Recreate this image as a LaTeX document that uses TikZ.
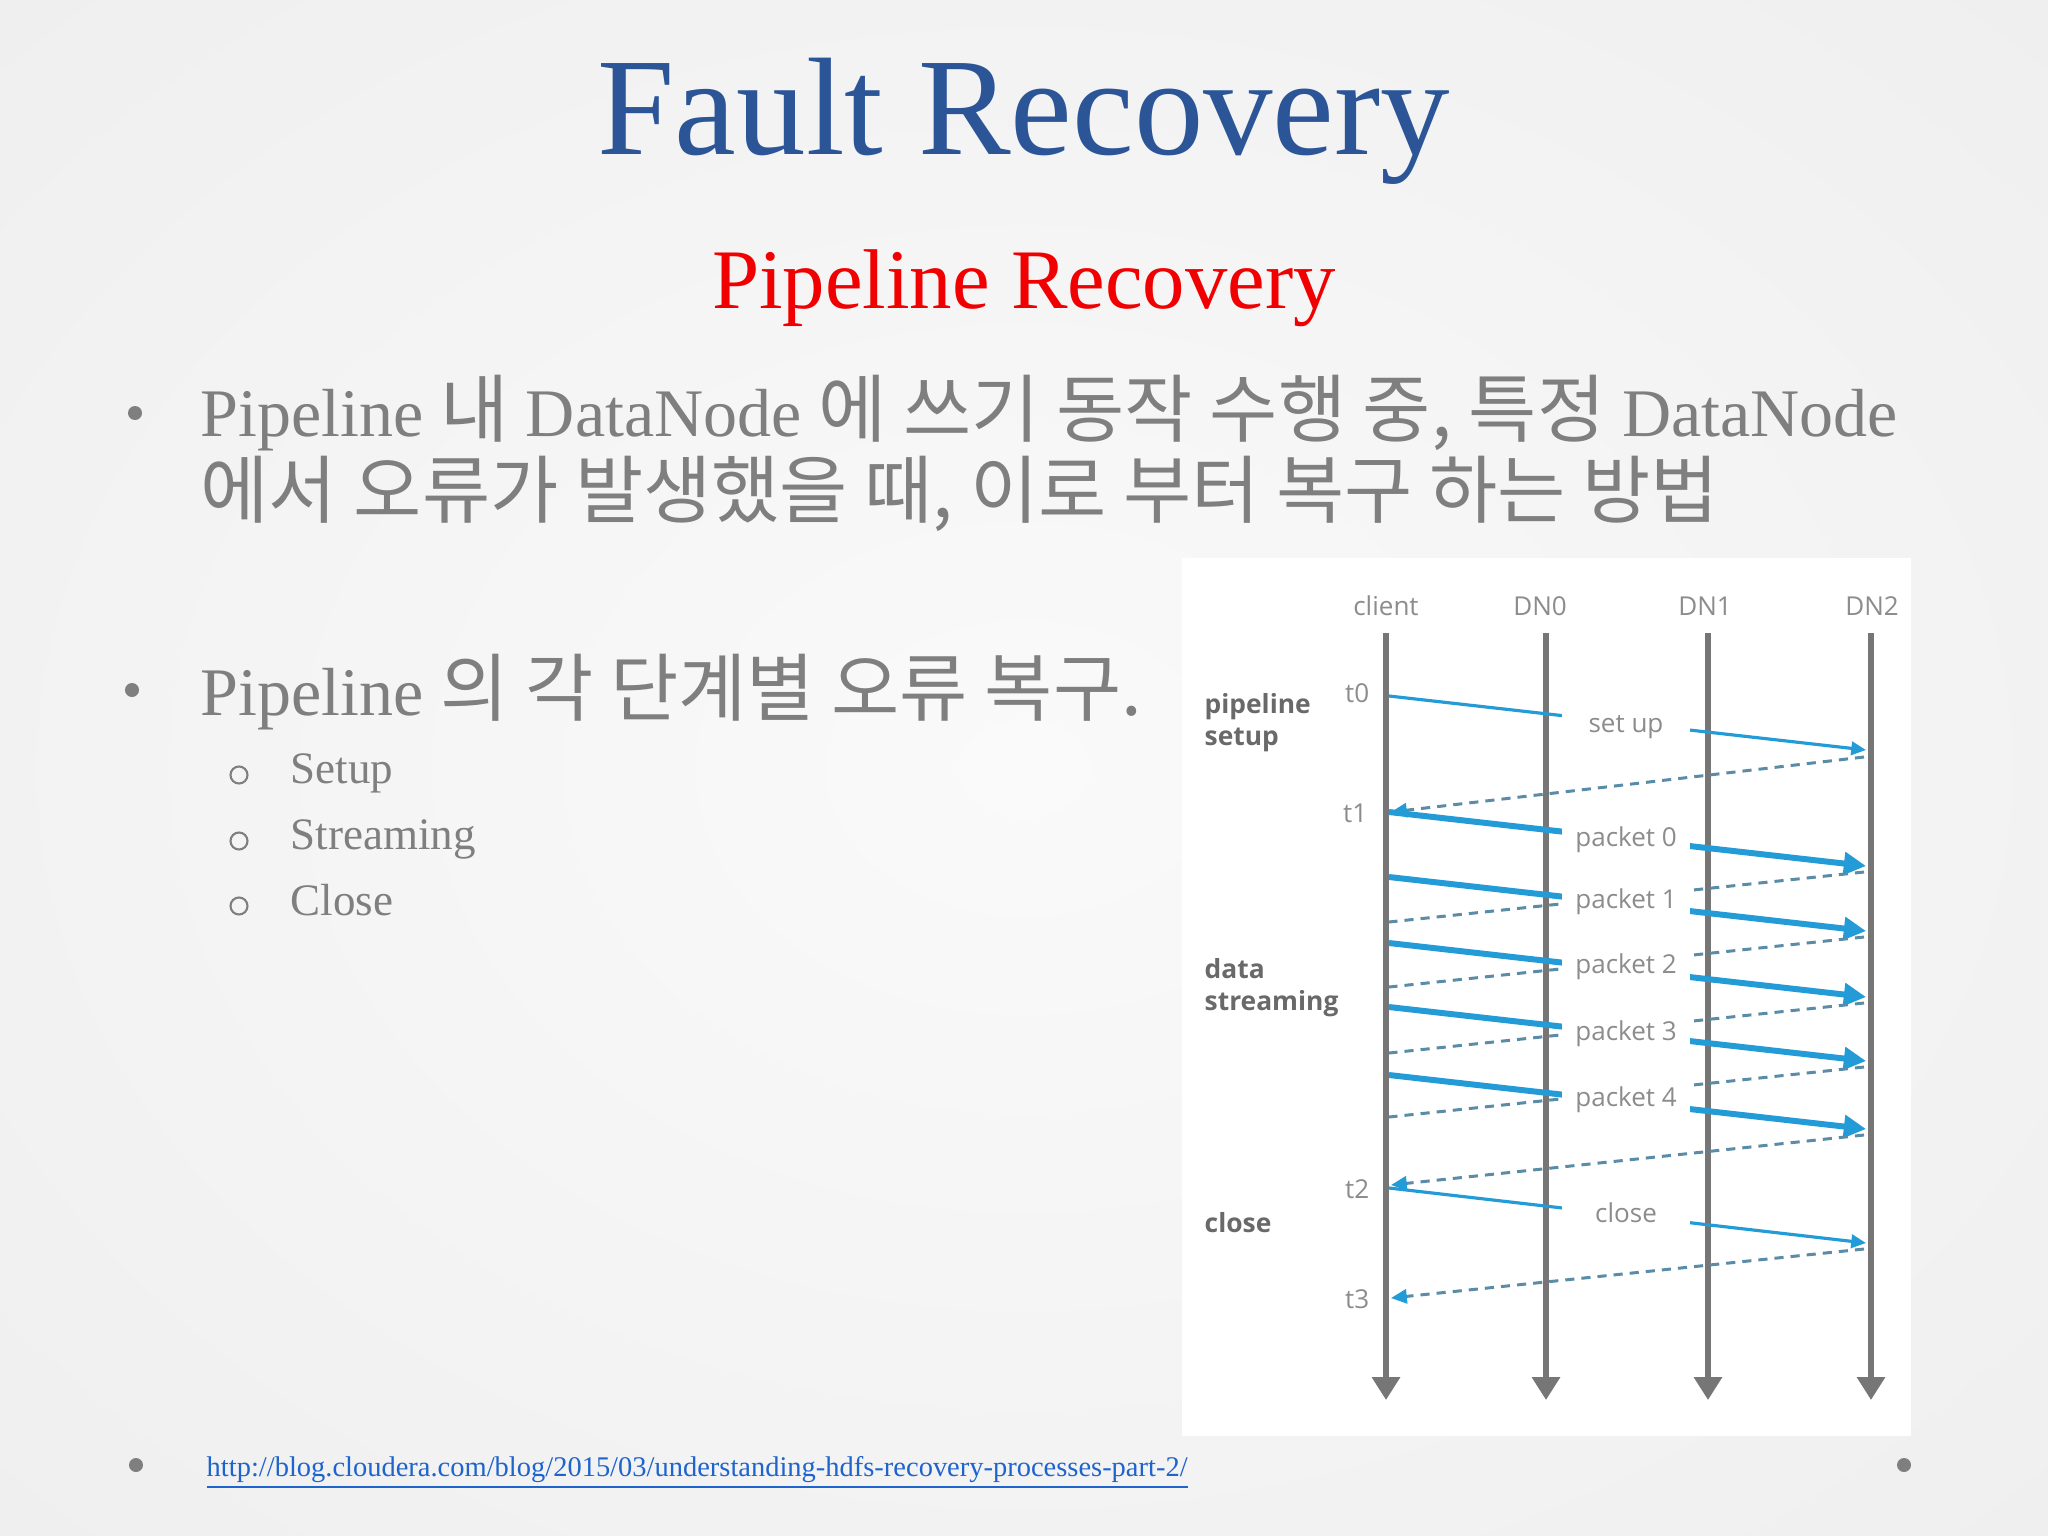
\documentclass[tikz,border=0pt]{standalone}
\usepackage{fontspec}
\setmainfont{Liberation Serif}
\setsansfont{Open Sans}
\newfontfamily\krfont[Scale=1.09]{Noto Sans CJK KR}
\usetikzlibrary{positioning,arrows.meta}
\definecolor{titleblue}{RGB}{44,85,152}
\definecolor{pipered}{RGB}{240,0,0}
\definecolor{slidegrey}{RGB}{127,127,127}
\definecolor{linkblue}{RGB}{30,100,205}
\definecolor{msgblue}{RGB}{35,155,215}
\definecolor{ackblue}{RGB}{90,140,168}
\definecolor{lifegrey}{RGB}{118,118,118}
\definecolor{lblgrey}{RGB}{140,140,140}
\definecolor{phasegrey}{RGB}{105,105,105}
\definecolor{bgin}{RGB}{250,250,250}
\definecolor{bgmid}{RGB}{236,236,236}
\definecolor{bgout}{RGB}{214,214,214}
\newcommand{\kr}[1]{{\krfont #1}}
\pgfdeclareradialshading{slidebg}{\pgfpoint{0bp}{0bp}}{color(0bp)=(bgin); color(45bp)=(bgmid); color(71bp)=(bgout)}
\tikzset{
  slidetext/.style={font=\fontsize{19.35}{22.8}\selectfont, text=slidegrey, inner sep=0pt},
  subtext/.style={font=\fontsize{12.8}{14}\selectfont, text=slidegrey, inner sep=0pt, anchor=base west},
  bulletdot/.style={circle, fill=slidegrey, inner sep=0pt, minimum size=0.14cm},
  ring/.style={circle, draw=slidegrey, line width=0.6pt, inner sep=0pt, minimum size=0.17cm},
  hdr/.style={font=\sffamily\fontsize{7.4}{9}\selectfont, text=lblgrey, inner sep=0pt, anchor=base},
  tlbl/.style={font=\sffamily\fontsize{7.4}{9}\selectfont, text=lblgrey, inner sep=0pt, anchor=base east},
  phase/.style={font=\sffamily\bfseries\fontsize{7.5}{9.1}\selectfont, text=phasegrey, inner sep=0pt, anchor=base west, align=left},
  msglbl/.style={font=\sffamily\fontsize{7.4}{9}\selectfont, text=lblgrey, fill=white, inner sep=0pt,
    minimum width=1.28cm, minimum height=0.36cm, text height=0.72em, text depth=0.2em},
  life/.style={line width=1.6pt, draw=lifegrey, -{Triangle[length=6.5pt,width=7.7pt]}},
  msg/.style={line width=0.9pt, draw=msgblue, -{Triangle[length=4.2pt,width=3.8pt]}},
  pkt/.style={line width=1.7pt, draw=msgblue, -{Triangle[length=6.3pt,width=6.3pt]}},
  ack/.style={line width=0.85pt, draw=ackblue, dash pattern=on 2.6pt off 2pt},
  ackhead/.style={ack, -{Triangle[length=4.5pt,width=4pt,color=msgblue]}}
}

\begin{document}
\begin{tikzpicture}[x=0.01cm,y=-0.01cm]
\useasboundingbox (0,0) rectangle (2048,1536);
\shade[shading=slidebg] (0,0) rectangle (2048,1536);

\begin{scope}
\draw(1024,154) node[anchor=base,font=\fontsize{39.5}{40}\selectfont,text=titleblue] (title) {Fault Recovery};
\draw(1024,308) node[anchor=base,font=\fontsize{24.1}{25}\selectfont,text=pipered] (subtitle) {Pipeline Recovery};

\draw(135,413) node[bulletdot] (b1) {};
\draw(200,517) node[slidetext,anchor=base west,align=left] (b1text)
  {Pipeline \kr{내} DataNode \kr{에 쓰기 동작 수행 중,} \kr{특정} DataNode\\\kr{에서 오류가 발생했을 때, 이로 부터 복구 하는 방법}};
\draw(132,690) node[bulletdot] (b2) {};
\draw(200,715) node[slidetext,anchor=base west] (b2text) {Pipeline \kr{의 각 단계별 오류 복구.}};

\draw(239,775) node[ring] (o1) {};
\draw(290,783) node[subtext] (setup) {Setup};
\draw(239,841) node[ring] (o2) {};
\draw(290,849) node[subtext] (streaming) {Streaming};
\draw(239,906) node[ring] (o3) {};
\draw(290,915) node[subtext] (closeitem) {Close};

\draw(136,1465) node[bulletdot] (f1) {};
\draw(206,1476) node[anchor=base west,inner sep=0pt,font=\fontsize{8.1}{9}\selectfont,text=linkblue] (link)
  {\underline{http://blog.cloudera.com/blog/2015/03/understanding-hdfs-recovery-processes-part-2/}};
\draw(1904,1465) node[bulletdot] (f2) {};
\end{scope}

\begin{scope}
\fill[white] (1182,558) rectangle (1911,1436);

\draw(1386,615) node[hdr] (client) {client};
\draw(1540,615) node[hdr] (dn0) {DN0};
\draw(1705,615) node[hdr] (dn1) {DN1};
\draw(1872,615) node[hdr] (dn2) {DN2};

\foreach \n/\x in {c/1386,d0/1546,d1/1708,d2/1871}{
  \coordinate (\n top) at (\x,633);
  \coordinate (\n bot) at (\x,1400);
  \draw[life] (\n top) -- (\n bot);
}

\draw(1370,702) node[tlbl] (t0) {t0};
\draw(1368,822) node[tlbl] (t1) {t1};
\draw(1370,1198) node[tlbl] (t2) {t2};
\draw(1370,1308) node[tlbl] (t3) {t3};

\draw(1204,745) node[phase] (ph1) {pipeline\\setup};
\draw(1204,1010) node[phase] (ph2) {data\\streaming};
\draw(1204,1232) node[phase] (ph3) {close};

% set up
\coordinate (su0) at (1389,696);
\coordinate (su1) at (1866,750);
\coordinate (sa0) at (1864,757);
\coordinate (sa1) at (1391,812);
\draw[msg] (su0) -- (su1);
\draw[ackhead] (sa0) -- (sa1);

\foreach \i/\y in {0/812,1/877,2/943,3/1007,4/1075}{
  \coordinate (snd\i) at (1389,\y);
  \coordinate (rcv\i) at (1866,{\y+54});
  \coordinate (ack\i) at (1864,{\y+60});
  \coordinate (back\i) at (1389,{\y+110});
  \draw[pkt] (snd\i) -- (rcv\i);
}
\foreach \i in {0,...,3}
  \draw[ack] (ack\i) -- (back\i);
\draw[ackhead] (ack4) -- ([xshift=0.02cm]back4);

% close
\coordinate (cl0) at (1389,1188);
\coordinate (cl1) at (1866,1243);
\coordinate (ca0) at (1864,1249);
\coordinate (ca1) at (1391,1298);
\draw[msg] (cl0) -- (cl1);
\draw[ackhead] (ca0) -- (ca1);

\draw(1626,723) node[msglbl] (lsetup) {set up};
\foreach \i/\y in {0/837,1/899,2/964,3/1031,4/1097}
  \draw(1626,\y) node[msglbl] (lpk\i) {packet \i};
\draw(1626,1213) node[msglbl] (lclose) {close};
\end{scope}
\end{tikzpicture}
\end{document}
